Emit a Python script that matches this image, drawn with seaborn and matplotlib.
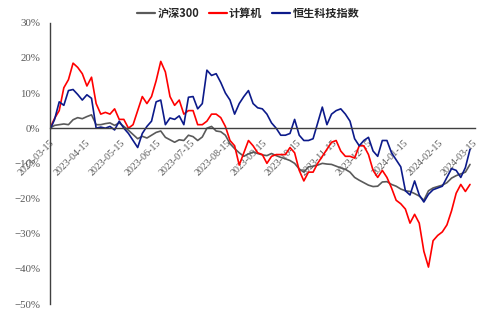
import pandas as pd
import numpy as np
import seaborn as sns
import matplotlib.pyplot as plt
import matplotlib.dates as mdates
from matplotlib.ticker import FixedLocator, FixedFormatter

sns.set_style('white')
plt.rcParams['font.family'] = ['Noto Sans CJK SC', 'DejaVu Sans']
plt.rcParams['axes.unicode_minus'] = False

# every 4 days from 2023-03-15
dates = pd.date_range('2023-03-15', periods=92, freq='4D')

hs300 = [0, 0.8, 1, 1.2, 1, 2.4, 3, 2.7, 3.3, 3.8,
         1, 1, 1.3, 1.5, 0.8, 1.5, 0.5, -0.6, -1.8, -3,
         -2.3, -2.8, -2, -1.2, -0.8, -2.6, -3.3, -4, -3.3, -3.5,
         -2, -2.4, -3.5, -2.5, 0, 0.5, -0.8, -1, -2, -4.4,
         -5.8, -7, -8, -7.3, -6.8, -7.2, -7.6, -7.8, -7.2, -7.8,
         -8.3, -8.7, -9.2, -10, -11.6, -12.5, -11, -10.8, -10.5, -10,
         -10.2, -10.3, -10.8, -11.3, -11.7, -12.5, -14, -14.8, -15.5, -16.2,
         -16.6, -16.5, -15.3, -15.2, -16, -16.5, -17.3, -17.8, -18, -18.6,
         -19.3, -20.5, -17.8, -17, -16.6, -16.2, -15.5, -14.2, -13.5, -13,
         -12.5, -10.3]

computer = [0, 2.8, 5, 11.5, 13.8, 18.5, 17.3, 15.5, 12, 14.5,
            7, 4, 4.5, 4, 5.5, 2.5, 2.5, 0, 1, 5,
            9, 7, 9, 13.5, 19, 16, 9, 6.5, 8, 4,
            5, 5, 1, 1, 2, 4, 4, 3, 0.5, -3.5,
            -5, -10.5, -7, -3.5, -5, -7, -7.5, -10, -8, -7.5,
            -7.5, -7.5, -5.5, -7, -12, -15, -12.5, -12.5, -10, -8,
            -6, -4, -3.5, -6.5, -8, -8, -8.5, -5, -5, -7.5,
            -12, -14, -12, -14, -17, -20.5, -21.5, -23, -27, -24.5,
            -27, -35, -39.5, -32, -30.5, -29.5, -27.5, -23.5, -18.5, -16,
            -18, -16]

hstech = [-0.5, 2.5, 7.5, 6.5, 10.7, 11, 9.6, 8, 9.5, 8.5,
          0, 0.3, 0, 0.5, -0.5, 2, 0, -1.5, -3.5, -5.5,
          -1.5, 0.5, 2, 7.5, 8, 1, 2.9, 2.5, 3.5, 1,
          8.8, 9, 5.5, 7, 16.5, 15, 15.5, 13, 10, 8,
          4, 7, 9, 10.7, 7, 5.8, 5.5, 4, 1.5, 0,
          -2, -2, -1.5, 2.5, -2, -3.5, -3.5, -3, 1.5, 6,
          1, 4, 5, 5.5, 4, 2, -3, -5, -3.5, -2.6,
          -6.5, -8, -3.5, -3.5, -7, -9, -11, -17.8, -19, -15,
          -19, -21, -18.8, -17.5, -17, -16.5, -14, -11.5, -12, -14,
          -11.2, -6]

names = ['沪深300', '计算机', '恒生科技指数']
colors = ['#5a5a5a', '#ff0000', '#0c1a8a']
tick_dates = pd.date_range('2023-03-01', '2024-03-15', freq='MS') + pd.Timedelta(days=14)
tick_labels = [d.strftime('%Y-%m-%d') for d in tick_dates]
y_ticks = list(range(-50, 31, 10))
y_labels = [f'{v}%'.replace('-', '−') for v in y_ticks]

df = pd.DataFrame({'date': dates, names[0]: hs300, names[1]: computer, names[2]: hstech})
long = df.melt(id_vars='date', var_name='series', value_name='pct')

fig = plt.figure(figsize=(4.82, 3.11), dpi=100)
ax = fig.add_axes([0.1037, 0.0225, 0.881, 0.9045])

sns.lineplot(data=long, x='date', y='pct', hue='series', hue_order=names,
             palette=dict(zip(names, colors)), linewidth=1.2, ax=ax, legend=False)

ax.set_ylim(-50, 30)
ax.set_xlim(mdates.date2num(pd.Timestamp('2023-03-15')), mdates.date2num(pd.Timestamp('2024-03-17')))
ax.yaxis.set_major_locator(FixedLocator(y_ticks))
ax.yaxis.set_major_formatter(FixedFormatter(y_labels))
ax.xaxis.set_major_locator(FixedLocator(mdates.date2num(tick_dates)))
ax.xaxis.set_major_formatter(FixedFormatter(tick_labels))
ax.set_xlabel('')
ax.set_ylabel('')

for s in ['top', 'right']:
    ax.spines[s].set_visible(False)
ax.spines['bottom'].set_position(('data', 0))
for s in ['bottom', 'left']:
    ax.spines[s].set_color('#404040')
    ax.spines[s].set_linewidth(1)
ax.tick_params(axis='both', direction='in', length=3, width=0.8, color='#404040')
ax.tick_params(axis='y', pad=7)
ax.tick_params(axis='x', pad=7)

for lab in ax.get_yticklabels():
    lab.set_fontfamily('Liberation Serif')
    lab.set_fontsize(7.8)
    lab.set_color('#595959')
for lab in ax.get_xticklabels():
    lab.set_fontfamily('Liberation Serif')
    lab.set_fontsize(7.2)
    lab.set_color('#595959')
    lab.set_rotation(45)
    lab.set_ha('right')
    lab.set_rotation_mode('anchor')

handles = [plt.Line2D([], [], color=c, linewidth=1.6) for c in colors]
fig.legend(handles, names, loc='center', bbox_to_anchor=(0.515, 0.958), ncol=3,
           frameon=False, handlelength=1.6, handletextpad=0.2, columnspacing=0.9,
           prop={'family': ['Noto Sans CJK SC', 'DejaVu Sans'], 'weight': 'bold', 'size': 8})

fig.savefig('out.png', dpi=100)
